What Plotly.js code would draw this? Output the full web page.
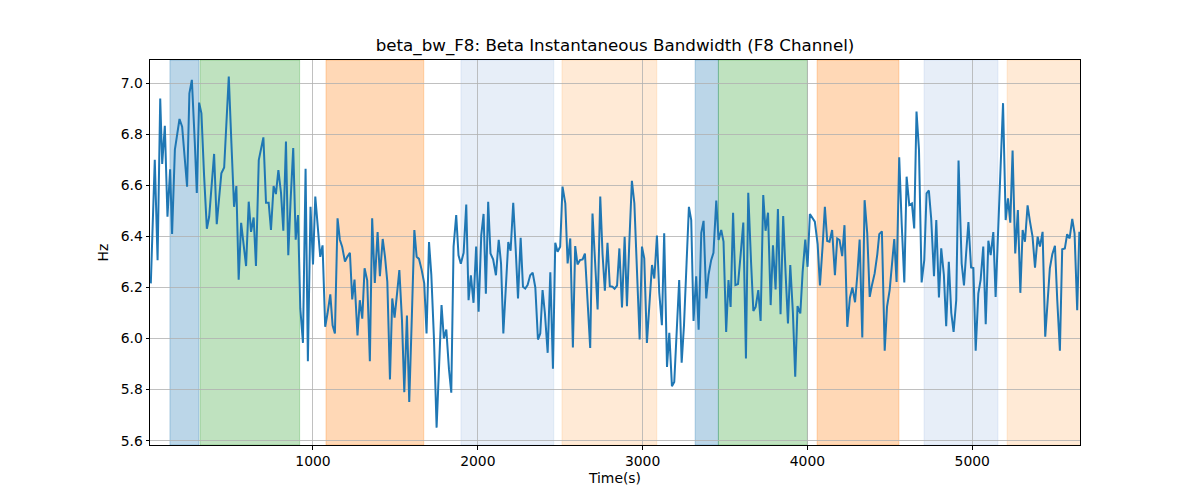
<!DOCTYPE html>
<html>
<head>
<meta charset="utf-8">
<script src="https://cdn.plot.ly/plotly-3.0.1.min.js"></script>
<style>html,body{margin:0;padding:0;background:#fff;}#chart{width:1200px;height:500px;}</style>
</head>
<body>
<div id="chart"></div>
<script>
const timeS = [16,40,57,73,85,101,117,133,145,162,176,190,206,222,236,250,265,283,295,309,323,339,356,370,384,400,416,430,444,461,475,489,505,521,535,549,564,580,594,610,624,640,654,671,685,699,715,
731,745,761,775,790,806,820,836,850,864,880,895,909,923,939,955,969,985,1000,1014,1030,1044,1058,1074,1088,1105,1119,1133,1149,1163,1177,1194,1208,1224,1238,1252,1270,1284,1299,1313,1329,1345,1359,1375,1392,1406,
1423,1437,1451,1467,1481,1495,1510,1524,1540,1554,1570,1584,1600,1615,1629,1643,1659,1675,1689,1704,1718,1734,1750,1764,1780,1794,1809,1825,1839,1853,1869,1883,1897,1914,1930,1944,1958,1974,1990,2005,2021,2035,2049,2063,2077,2093,2110,
2127,2141,2155,2171,2185,2199,2215,2230,2244,2260,2274,2288,2302,2318,2333,2349,2365,2379,2393,2407,2424,2440,2456,2470,2484,2500,2514,2531,2545,2561,2577,2591,2605,2620,2636,2650,2666,2682,2696,2710,2727,2743,2757,2771,2787,2801,2817,
2830,2845,2859,2875,2891,2905,2919,2935,2950,2966,2982,2996,3010,3026,3043,3057,3071,3087,3101,3117,3131,3148,3162,3178,3192,3208,3222,3237,3251,3267,3281,3295,3309,3325,3340,3356,3370,3386,3400,3416,3430,3447,3461,3477,3491,3507,3521,
3534,3549,3563,3579,3595,3611,3627,3641,3658,3672,3686,3702,3716,3732,3746,3761,3777,3791,3807,3821,3837,3853,3868,3882,3896,3912,3926,3940,3957,3971,3987,4001,4015,4031,4045,4062,4076,4092,4106,4120,4134,4150,4167,4181,4195,4211,4225,
4242,4258,4273,4289,4303,4317,4333,4347,4363,4378,4392,4408,4424,4436,4452,4469,4483,4499,4513,4527,4541,4557,4572,4588,4602,4618,4634,4648,4662,4677,4693,4709,4723,4737,4751,4768,4782,4798,4812,4828,4842,4858,4873,4887,4903,4917,
4936,4950,4963,4977,4993,5007,5021,5037,5051,5067,5082,5098,5112,5128,5142,5158,5172,5187,5203,5217,5231,5245,5261,5277,5292,5306,5320,5336,5350,5366,5381,5397,5411,5427,5443,5457,5471,5486,5502,5516,5532,5546,5562,5576,5591,5607,5621,5637,5650];

const betaBw = [6.216,6.70,6.307,6.94,6.684,6.833,6.477,6.663,6.41,6.74,6.80,6.86,6.83,6.71,6.595,6.96,7.013,6.765,6.57,6.924,6.882,6.64,6.43,6.477,6.595,6.723,6.448,6.556,6.647,6.67,6.83,7.026,6.765,6.516,6.597,6.23,6.453,6.36,6.284,6.536,6.418,6.474,6.284,6.699,6.74,6.788,6.532,
6.532,6.425,6.597,6.566,6.66,6.57,6.422,6.772,6.326,6.54,6.746,6.387,6.484,6.118,5.983,6.665,5.911,6.516,6.29,6.556,6.44,6.32,6.365,6.046,6.098,6.173,6.052,6.02,6.471,6.387,6.36,6.301,6.32,6.336,6.153,6.231,6.012,6.15,6.078,6.275,6.228,5.911,6.471,6.218,6.417,6.244,
6.39,6.32,6.222,5.84,6.157,6.082,6.176,6.268,6.07,5.79,6.09,5.752,6.09,6.425,6.32,6.312,6.27,6.216,6.02,6.378,6.25,6.0,5.651,5.85,6.131,6.0,6.035,5.88,5.788,6.36,6.484,6.326,6.293,6.336,6.525,6.15,6.248,6.14,6.36,6.105,6.405,6.488,6.176,6.536,6.333,6.31,6.248,
6.387,6.294,6.02,6.2,6.378,6.344,6.532,6.35,6.157,6.395,6.203,6.196,6.209,6.248,6.258,6.2,5.996,6.02,6.19,6.1,5.944,6.26,5.882,6.375,6.34,6.36,6.595,6.53,6.294,6.392,5.965,6.362,6.29,6.307,6.31,6.333,6.15,5.963,6.49,6.3,6.114,6.556,6.33,6.187,6.375,6.205,6.203,
6.195,6.207,6.353,6.122,6.399,6.127,6.37,6.618,6.53,6.25,5.996,6.36,6.314,5.983,6.15,6.288,6.235,6.403,6.18,6.052,6.412,5.889,6.022,5.813,5.83,6.03,6.229,5.905,6.05,6.3,6.516,6.464,6.069,6.244,6.035,6.414,6.461,6.157,6.25,6.307,6.336,6.54,6.386,6.425,6.38,6.026,6.229,
6.124,6.493,6.209,6.213,6.33,6.454,5.922,6.571,6.3,6.108,6.124,6.19,6.069,6.562,6.422,6.493,6.131,6.365,6.192,6.507,6.095,6.48,6.25,6.059,6.288,6.1,5.85,6.127,6.098,6.26,6.388,6.281,6.488,6.471,6.458,6.37,6.208,6.36,6.516,6.382,6.379,6.425,6.248,6.392,6.386,6.323,6.444,
6.046,6.16,6.2,6.142,6.25,6.388,6.004,6.542,6.412,6.163,6.21,6.255,6.33,6.409,6.42,5.952,6.124,6.19,6.29,6.39,6.222,6.71,6.45,6.22,6.634,6.523,6.529,6.431,6.889,6.739,6.22,6.307,6.569,6.58,6.47,6.244,6.464,6.161,6.353,6.25,6.048,6.301,6.1,6.026,6.15,6.697,
6.294,6.208,6.333,6.456,6.278,6.276,5.952,6.176,6.23,6.36,6.056,6.383,6.327,6.417,6.163,6.42,6.65,6.922,6.464,6.549,6.454,6.736,6.333,6.503,6.179,6.425,6.379,6.522,6.46,6.399,6.278,6.399,6.36,6.418,6.007,6.15,6.275,6.33,6.363,6.15,5.952,6.35,6.353,6.409,6.392,6.469,6.412,6.111,6.418];

// shaded epochs: start, end, colour
const bandStart = [132, 315, 1079, 1898, 2511, 3319, 3460, 4059, 4708, 5212];
const bandEnd   = [308, 919, 1672, 2461, 3086, 3460, 4000, 4555, 5156, 5700];
const bandColor = ['rgba(31,119,180,0.3)','rgba(44,160,44,0.3)','rgba(255,127,14,0.3)','rgba(174,199,232,0.3)','rgba(255,187,120,0.3)',
                   'rgba(31,119,180,0.3)','rgba(44,160,44,0.3)','rgba(255,127,14,0.3)','rgba(174,199,232,0.3)','rgba(255,187,120,0.3)'];

const shapes = bandStart.map((s, i) => ({
  type: 'rect', xref: 'x', yref: 'paper', x0: s, x1: bandEnd[i], y0: 0, y1: 1,
  fillcolor: bandColor[i], line: {color: bandColor[i], width: 1}, layer: 'below'
}));

const trace = {
  x: timeS, y: betaBw, type: 'scatter', mode: 'lines',
  line: {color: '#1f77b4', width: 2}, hoverinfo: 'skip'
};

const font = {family: 'DejaVu Sans, sans-serif', size: 13.9, color: '#000'};
const layout = {
  width: 1200, height: 500,
  margin: {l: 150, r: 120, t: 60, b: 55},
  paper_bgcolor: '#fff', plot_bgcolor: 'rgba(0,0,0,0)',
  font: font,
  showlegend: false,
  title: {text: 'beta_bw_F8: Beta Instantaneous Bandwidth (F8 Channel)', font: {family: 'DejaVu Sans, sans-serif', size: 16.7, color: '#000'}, x: 0.5125, xanchor: 'center', y: 0.91, yanchor: 'middle'},
  xaxis: {
    range: [11, 5654], tickmode: 'array', tickvals: [1000,2000,3000,4000,5000], ticktext: ['1000','2000','3000','4000','5000'],
    showgrid: true, gridcolor: '#b0b0b0', gridwidth: 0.8, zeroline: false,
    showline: true, linecolor: '#000', linewidth: 1, mirror: true,
    ticks: 'outside', ticklen: 3.5, tickcolor: '#000', tickfont: font,
    title: {text: 'Time(s)', font: font, standoff: 5}
  },
  yaxis: {
    range: [5.583, 7.091], tickmode: 'array', tickvals: [5.6,5.8,6.0,6.2,6.4,6.6,6.8,7.0], ticktext: ['5.6','5.8','6.0','6.2','6.4','6.6','6.8','7.0'],
    showgrid: true, gridcolor: '#b0b0b0', gridwidth: 0.8, zeroline: false,
    showline: true, linecolor: '#000', linewidth: 1, mirror: true,
    ticks: 'outside', ticklen: 3.5, tickcolor: '#000', tickfont: font,
    title: {text: 'Hz', font: font, standoff: 8}
  },
  shapes: shapes
};

Plotly.newPlot('chart', [trace], layout, {displayModeBar: false, staticPlot: true});
</script>
</body>
</html>
